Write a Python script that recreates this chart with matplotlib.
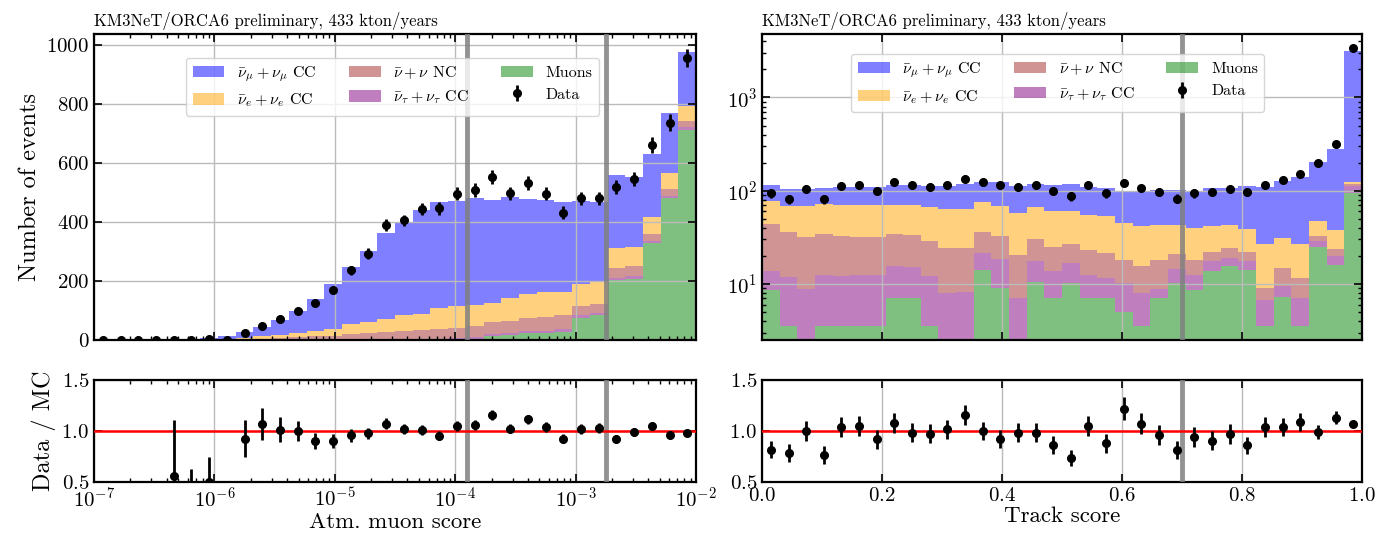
# Stacked MC vs data for the ORCA6 atmospheric muon score and track score

import numpy as np
import matplotlib.pyplot as plt

plt.rcParams["font.family"] = "serif"
plt.rcParams["font.serif"] = ["cmr10"]
plt.rcParams["mathtext.fontset"] = "cm"
plt.rcParams["axes.formatter.use_mathtext"] = True

# Binning
muon_edges = np.logspace(-7, -2, 35)
track_edges = np.linspace(0, 1, 35)

# Atm. muon score histograms (events per bin)
muon_muons = [0] * 20 + [2, 4, 15, 18, 22, 25, 28, 75, 85, 203, 208, 328, 480, 712]
muon_nutau = [0] * 8 + [1, 1, 2, 2, 3, 3, 4, 4, 4, 5, 5, 5, 5, 6, 6, 6, 7, 7, 8, 8, 8, 8, 9, 9, 9, 9]
muon_nc = [0] * 8 + [2, 4, 6, 8, 10, 12, 15, 18, 22, 25, 30, 32, 35, 38, 40, 42, 45, 46, 47,
                     32, 30, 32, 34, 23, 23, 20]
muon_nue = [0] * 8 + [3, 8, 9, 12, 17, 23, 35, 40, 44, 55, 53, 70, 72, 72, 63, 75, 81, 84, 81,
                      75, 75, 68, 65, 58, 55, 52]
muon_numu = [0.5, 1, 1, 1.5, 1.8, 3.2, 8, 14, 21, 31, 52, 77, 110, 151, 193, 238, 294, 313,
             352, 361, 357, 360, 352, 344, 322, 313, 304, 280, 268, 249, 235, 212, 203, 182]
muon_data = [0, 0, 0, 0, 1, 1, 4, 0, 25, 47, 70, 99, 126, 170, 237, 293, 390, 405,
             443, 446, 495, 508, 551, 497, 531, 495, 432, 480, 480, 518, 546, 661, 737, 955]

# Track score histograms (events per bin)
track_muons = [8.6, 3.5, 0, 3.5, 3.5, 3.5, 3.5, 7.0, 7.0, 3.5, 0, 0, 14.2, 9, 0, 10.6, 7.0,
               10.2, 7.0, 7.0, 5.0, 3.5, 7.0, 10.2, 8.6, 13.6, 15.6, 14.2, 3.5, 7.3, 3.5, 25, 16, 94]
track_nutau = [5.2, 8.3, 8.8, 9.0, 8.7, 8.9, 9.1, 8.7, 8.3, 8.5, 7.9, 8.1, 7.5, 9.4, 7.0, 6.8, 6.6,
               6.5, 5.5, 4.5, 5.2, 4.4, 1.8, 4.2, 3.9, 3.8, 3.3, 3.2, 3.2, 2.1, 3.5, 3.5, 4, 17]
track_nc = [30.2, 24.2, 22.7, 21.5, 20.8, 19.6, 19.4, 18.8, 18.2, 17, 16.1, 15.9, 14.3, 14.6, 13.5,
            12.6, 11.4, 10.3, 10.5, 9.9, 7.8, 7.7, 9.2, 6.6, 5.5, 4.6, 5.1, 4.6, 2.3, 5.3, 4.5,
            4.5, 3.6, 8]
track_nue = [33, 33, 36.5, 38, 38, 38, 38, 36.5, 36.5, 38, 40, 40, 40, 36, 37.5, 37, 36, 33, 32,
             31.6, 27, 26.4, 25, 22, 21.5, 20, 19, 16.7, 18, 16.3, 15.5, 14, 14.4, 4]
track_numu = [38, 34, 36, 34, 38, 39, 39, 43, 46, 46, 49, 53, 47, 55, 54, 50, 54, 58, 54, 54,
              55, 57, 58, 58, 60.5, 65, 64, 74.3, 83, 95, 112, 154, 245, 3017]
track_data = [94, 81, 104, 81, 113, 114, 100, 123, 114, 110, 115, 135, 123, 114, 110, 115, 99,
              87, 114, 94, 122, 106, 97, 82, 94, 97, 104, 97, 114, 131, 151, 199, 320, 3360]

# Cut values
muon_cuts = [1.24e-4, 1.78e-3]
track_cuts = [0.7]

labels = [r"$\bar{\nu}_\mu + \nu_\mu$ CC", r"$\bar{\nu}_e + \nu_e$ CC", r"$\bar{\nu} + \nu$ NC",
          r"$\bar{\nu}_\tau + \nu_\tau$ CC", "Muons"]
colors = ["blue", "orange", "brown", "purple", "green"]
title = "KM3NeT/ORCA6 preliminary, 433 kton/years"


def style(ax):
    ax.tick_params(which="both", direction="in", top=True, right=True, labelsize=15)
    ax.tick_params(which="major", length=6, width=1.2)
    ax.tick_params(which="minor", length=3, width=1)
    for s in ax.spines.values():
        s.set_linewidth(1.6)
    ax.grid(True, which="major", color="#bbbbbb", lw=1)


def draw(ax, rax, edges, comps, data, cuts, centers):
    # stack from the bottom: muons, tau, NC, nue, numu
    bottom = np.zeros(len(data))
    handles = {}
    for vals, lab, col in reversed(list(zip(comps, labels, colors))):
        vals = np.asarray(vals, dtype=float)
        h = ax.stairs(bottom + vals, edges, baseline=bottom.copy(), fill=True,
                      color=col, alpha=0.5, lw=0, label=lab)
        handles[lab] = h
        bottom = bottom + vals
    total = bottom
    data = np.asarray(data, dtype=float)
    hd = ax.errorbar(centers, data, yerr=np.sqrt(data), fmt="o", color="k", ms=5.5,
                     elinewidth=2, capsize=0, label="Data", zorder=4)
    for c in cuts:
        ax.axvline(c, color="grey", lw=3.5, alpha=0.85, zorder=3)
        rax.axvline(c, color="grey", lw=3.5, alpha=0.85, zorder=3)

    ratio = data / total
    rerr = np.sqrt(data) / total
    rax.axhline(1.0, color="red", lw=1.8, zorder=3)
    rax.errorbar(centers, ratio, yerr=rerr, fmt="o", color="k", ms=5.5,
                 elinewidth=2, capsize=0, zorder=4)
    rax.set_ylim(0.5, 1.5)
    rax.set_yticks([0.5, 1.0, 1.5])

    hl = [handles[l] for l in labels] + [hd]
    ll = labels + ["Data"]
    return hl, ll


fig = plt.figure(figsize=(13.83, 5.36), dpi=100)
ax1 = fig.add_axes([0.068, 0.3657, 0.4353, 0.5709])
rax1 = fig.add_axes([0.068, 0.1007, 0.4353, 0.1903], sharex=ax1)
ax2 = fig.add_axes([0.551, 0.3657, 0.4338, 0.5709])
rax2 = fig.add_axes([0.551, 0.1007, 0.4338, 0.1903], sharex=ax2)

# Left: atmospheric muon score
ax1.set_xscale("log")
c1 = np.sqrt(muon_edges[:-1] * muon_edges[1:])
hl, ll = draw(ax1, rax1, muon_edges, [muon_numu, muon_nue, muon_nc, muon_nutau, muon_muons],
              muon_data, muon_cuts, c1)
ax1.set_xlim(1e-7, 1e-2)
ax1.set_ylim(0, 1037)
ax1.set_yticks([0, 200, 400, 600, 800, 1000])
ax1.set_ylabel("Number of events", fontsize=17.5)
rax1.set_ylabel("Data / MC", fontsize=17.5)
rax1.set_xlabel("Atm. muon score", fontsize=16.5, labelpad=1)
ax1.set_title(title, loc="left", fontsize=12, pad=6)
ax1.legend(hl, ll, ncol=3, loc="upper center", bbox_to_anchor=(0.496, 0.923),
           borderaxespad=0, fontsize=11.5)

# Right: track score
ax2.set_yscale("log")
c2 = 0.5 * (track_edges[:-1] + track_edges[1:])
hl, ll = draw(ax2, rax2, track_edges, [track_numu, track_nue, track_nc, track_nutau, track_muons],
              track_data, track_cuts, c2)
ax2.set_xlim(0, 1)
ax2.set_ylim(2.5, 4800)
rax2.set_xlabel("Track score", fontsize=16.5, labelpad=1)
ax2.set_title(title, loc="left", fontsize=12, pad=6)
ax2.legend(hl, ll, ncol=3, loc="upper center", bbox_to_anchor=(0.493, 0.935),
           borderaxespad=0, fontsize=11.5)

for ax in (ax1, ax2, rax1, rax2):
    style(ax)
for ax in (ax1, ax2):
    plt.setp(ax.get_xticklabels(), visible=False)

fig.savefig("out.png", dpi=100)
